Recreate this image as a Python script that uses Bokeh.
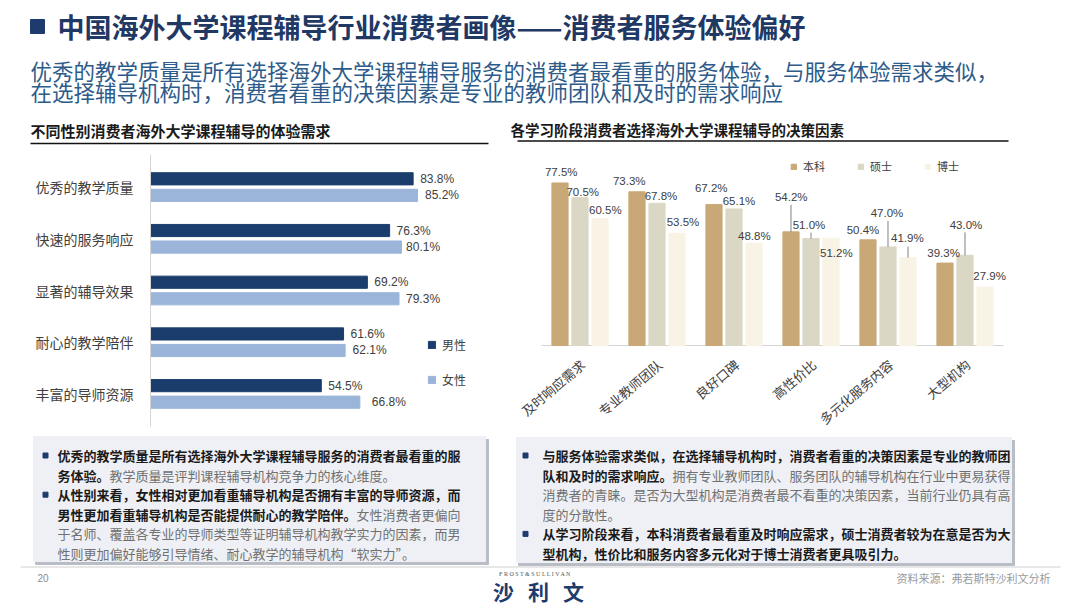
from bokeh.plotting import figure
from bokeh.models import Range1d, FactorRange, ColumnDataSource, Legend, LegendItem
from bokeh.transform import dodge
from bokeh.layouts import column, row
from bokeh.core.properties import value
from bokeh.embed import file_html
from bokeh.resources import INLINE

# ---------------- data ----------------
gender_categories = ["优秀的教学质量", "快速的服务响应", "显著的辅导效果", "耐心的教学陪伴", "丰富的导师资源"]
gender_series = ["男性", "女性"]
male = [83.8, 76.3, 69.2, 61.6, 54.5]
female = [85.2, 80.1, 79.3, 62.1, 66.8]

factor_categories = ["及时响应需求", "专业教师团队", "良好口碑", "高性价比", "多元化服务内容", "大型机构"]
stage_series = ["本科", "硕士", "博士"]
bachelor = [77.5, 73.3, 67.2, 54.2, 50.4, 39.3]
master = [70.5, 67.8, 65.1, 51.0, 47.0, 43.0]
doctor = [60.5, 53.5, 48.8, 51.2, 41.9, 27.9]

title_text = "中国海外大学课程辅导行业消费者画像——消费者服务体验偏好"
subtitle_lines = ["优秀的教学质量是所有选择海外大学课程辅导服务的消费者最看重的服务体验，与服务体验需求类似，",
                  "在选择辅导机构时，消费者看重的决策因素是专业的教师团队和及时的需求响应"]
left_header = "不同性别消费者海外大学课程辅导的体验需求"
right_header = "各学习阶段消费者选择海外大学课程辅导的决策因素"

# (bullet, bold part, normal part)
left_box = [
    (True, "优秀的教学质量是所有选择海外大学课程辅导服务的消费者最看重的服", ""),
    (False, "务体验。", "教学质量是评判课程辅导机构竞争力的核心维度。"),
    (True, "从性别来看，女性相对更加看重辅导机构是否拥有丰富的导师资源，而", ""),
    (False, "男性更加看重辅导机构是否能提供耐心的教学陪伴。", "女性消费者更偏向"),
    (False, "", "于名师、覆盖各专业的导师类型等证明辅导机构教学实力的因素，而男"),
    (False, "", "性则更加偏好能够引导情绪、耐心教学的辅导机构“软实力”。"),
]
right_box = [
    (True, "与服务体验需求类似，在选择辅导机构时，消费者看重的决策因素是专业的教师团", ""),
    (False, "队和及时的需求响应。", "拥有专业教师团队、服务团队的辅导机构在行业中更易获得"),
    (False, "", "消费者的青睐。是否为大型机构是消费者最不看重的决策因素，当前行业仍具有高"),
    (False, "", "度的分散性。"),
    (True, "从学习阶段来看，本科消费者最看重及时响应需求，硕士消费者较为在意是否为大", ""),
    (False, "型机构，性价比和服务内容多元化对于博士消费者更具吸引力。", ""),
]
page_no = "20"
source_text = "资料来源：弗若斯特沙利文分析"
logo_small = "F R O S T   &   S U L L I V A N"
logo_chars = ["沙", "利", "文"]

# ---------------- styles ----------------
CJK = value("Noto Sans CJK SC")
LAT = value("Liberation Sans")
NAVY = "#1f3b6e"
MALE_C = "#1b3d6d"
FEMALE_C = "#9bb4da"
STAGE_C = ["#c9a877", "#dbd7c5", "#f8f3e5"]
LABEL_C = "#404040"

# label offsets (pixels) – styling only
female_dx = [7.5, 4.5, 7, 7.5, 12]
stage_dx = [[1.3, -7.7, -2.7, 0.3, -5, -1.4],
            [2.7, 4, 5, -2, -1, 1],
            [5.3, 6, 0.3, 5.3, -0.7, 4.6]]
stage_dy = [[-10.5, -11.1, -16.2, -35.2, -10.2, -9.8],
            [-5.5, -7.6, -8.3, -13.9, -34, -30.7],
            [-9, -11.6, -6.8, 14.8, -19.3, -10.7]]
leader_px = [[0, 0, 0, 27, 0, 0],
             [0, 0, 0, 6, 26, 23],
             [0, 0, 0, 0, 11, 0]]
stage_off = [-0.26, 0.0, 0.26]


def canvas(w, h, x0, y0):
    p = figure(width=w, height=h, x_range=Range1d(x0, x0 + w), y_range=Range1d(y0 + h, y0),
               x_axis_location=None, y_axis_location=None, toolbar_location=None,
               output_backend="svg", min_border=0)
    p.grid.grid_line_color = None
    p.outline_line_color = None
    return p


# ---------------- header ----------------
hd = canvas(1080, 150, 0, 0)
hd.quad(left=[30], right=[44], top=[19], bottom=[33], color=NAVY)
hd.text(x=[57], y=[26], text=[title_text], text_font=CJK, text_font_style="bold",
        text_font_size="27px", text_color="#1f3864", text_baseline="middle")
hd.text(x=[30, 30], y=[70, 91], text=subtitle_lines, text_font=CJK,
        text_font_size="21.5px", text_color="#2d5b8a", text_baseline="middle")
hd.text(x=[30], y=[130], text=[left_header], text_font=CJK, text_font_style="bold",
        text_font_size="15px", text_color="#1a1a1a", text_baseline="middle")
hd.segment(x0=[30], x1=[488], y0=[143], y1=[143], line_color="#111111", line_width=1.5)
hd.text(x=[510], y=[129], text=[right_header], text_font=CJK, text_font_style="bold",
        text_font_size="14.5px", text_color="#1a1a1a", text_baseline="middle")
hd.segment(x0=[517], x1=[1008], y0=[140.5], y1=[140.5], line_color="#111111", line_width=1.5)

# ---------------- left chart ----------------
src_g = ColumnDataSource(dict(
    cat=gender_categories, male=male, female=female,
    male_lbl=[f"{v:.1f}%" for v in male], female_lbl=[f"{v:.1f}%" for v in female],
    female_dx=female_dx))
pl = figure(width=510, height=280,
            y_range=FactorRange(*reversed(gender_categories), range_padding=0.13,
                                range_padding_units="absolute"),
            x_range=Range1d(0, 114.87), x_axis_location=None, toolbar_location=None,
            output_backend="svg", min_border_left=150, min_border_right=0,
            min_border_top=4, min_border_bottom=4)
pl.outline_line_color = None
pl.grid.grid_line_color = None
r_m = pl.hbar(y=dodge("cat", 0.16, range=pl.y_range), left=0, right="male", height=0.235,
              source=src_g, color=MALE_C)
r_f = pl.hbar(y=dodge("cat", -0.16, range=pl.y_range), left=0, right="female", height=0.235,
              source=src_g, color=FEMALE_C)
pl.text(x="male", y=dodge("cat", 0.16, range=pl.y_range), text="male_lbl", source=src_g,
        x_offset=7, text_baseline="middle", text_font=LAT, text_font_size="12px", text_color=LABEL_C)
pl.text(x="female", y=dodge("cat", -0.16, range=pl.y_range), text="female_lbl", source=src_g,
        x_offset="female_dx", text_baseline="middle", text_font=LAT, text_font_size="12px",
        text_color=LABEL_C)
ya = pl.yaxis[0]
ya.major_tick_line_color = None
ya.minor_tick_line_color = None
ya.axis_line_color = "#d4d4d4"
ya.major_label_text_font = "Noto Sans CJK SC"
ya.major_label_text_font_size = "14px"
ya.major_label_text_color = LABEL_C
ya.major_label_standoff = 11
leg_l = Legend(items=[LegendItem(label=gender_series[0], renderers=[r_m]),
                      LegendItem(label=gender_series[1], renderers=[r_f])],
               location=(277, 38), orientation="vertical", spacing=18, padding=0, margin=0,
               glyph_width=9, glyph_height=9, label_height=9, label_standoff=6,
               border_line_color=None, background_fill_alpha=0,
               label_text_font="Noto Sans CJK SC", label_text_font_size="12px",
               label_text_color=LABEL_C)
pl.add_layout(leg_l)

# ---------------- right chart ----------------
Y_START, Y_END = -38.63, 91.08
FRAME_H = 272
px_per_unit = FRAME_H / (Y_END - Y_START)
series_vals = [bachelor, master, doctor]
sdata = dict(cat=factor_categories, zero=[0] * len(factor_categories))
for i, vals in enumerate(series_vals):
    sdata[f"v{i}"] = vals
    sdata[f"l{i}"] = [f"{v:.1f}%" for v in vals]
    sdata[f"dx{i}"] = stage_dx[i]
    sdata[f"dy{i}"] = stage_dy[i]
    sdata[f"t{i}"] = [v + L / px_per_unit for v, L in zip(vals, leader_px[i])]
src_s = ColumnDataSource(sdata)

pr = figure(width=570, height=280,
            x_range=FactorRange(*factor_categories, range_padding=0.4026,
                                range_padding_units="absolute"),
            y_range=Range1d(Y_START, Y_END), x_axis_location=None, y_axis_location=None,
            toolbar_location=None, output_backend="svg", min_border_left=0,
            min_border_right=46, min_border_top=4, min_border_bottom=4)
pr.outline_line_color = None
pr.grid.grid_line_color = None
# baseline (category axis line) spanning the categories
base_src = ColumnDataSource(dict(a=[factor_categories[0]], b=[factor_categories[-1]], y=[0]))
pr.segment(x0=dodge("a", -0.5, range=pr.x_range), x1=dodge("b", 0.5, range=pr.x_range),
           y0="y", y1="y", source=base_src, line_color="#d4d4d4", line_width=1)
bars = []
for i in range(3):
    xs = dodge("cat", stage_off[i], range=pr.x_range)
    bars.append(pr.vbar(x=xs, top=f"v{i}", bottom=0, width=0.21, source=src_s,
                        color=STAGE_C[i]))
for i in range(3):
    xs = dodge("cat", stage_off[i], range=pr.x_range)
    pr.segment(x0=xs, x1=xs, y0=f"v{i}", y1=f"t{i}", source=src_s,
               line_color="#808080", line_width=1)
    pr.text(x=xs, y=f"v{i}", text=f"l{i}", x_offset=f"dx{i}", y_offset=f"dy{i}",
            source=src_s, text_align="center", text_baseline="middle",
            text_font=LAT, text_font_size="11.5px", text_color=LABEL_C)
# category labels, rotated, ending just below the baseline under each group
pr.text(x="cat", y="zero", text="cat", source=src_s, angle=0.70, x_offset=3, y_offset=17,
        text_align="right", text_baseline="middle", text_font=CJK,
        text_font_size="13px", text_color=LABEL_C)
leg_r = Legend(items=[LegendItem(label=stage_series[i], renderers=[bars[i]]) for i in range(3)],
               location=(280, 252), orientation="horizontal", spacing=32, padding=0, margin=0,
               glyph_width=7, glyph_height=7, label_height=7, label_standoff=6,
               border_line_color=None, background_fill_alpha=0,
               label_text_font="Noto Sans CJK SC", label_text_font_size="11px",
               label_text_color=LABEL_C)
pr.add_layout(leg_r)

# ---------------- bottom ----------------
bt = canvas(1080, 177, 0, 430)
for (l, r, t, b) in [(33, 485, 436, 561), (516, 1011, 437, 562)]:
    bt.quad(left=[l + 2], right=[r + 3], top=[t + 3], bottom=[b + 3], color="#b9bdc6")
    bt.quad(left=[l], right=[r], top=[t], bottom=[b], color="#eef0f5")

FS = 13


def box_text(lines, x_text, x_bullet):
    for i, (bullet, bold, normal) in enumerate(lines):
        y = 455 + 19.6 * i
        if bullet:
            bt.quad(left=[x_bullet - 2.5], right=[x_bullet + 2.5], top=[y - 2.5], bottom=[y + 2.5],
                    color=NAVY)
        if bold:
            bt.text(x=[x_text], y=[y], text=[bold], text_font=CJK, text_font_style="bold",
                    text_font_size=f"{FS}px", text_color="#1a1a1a", text_baseline="middle")
        if normal:
            bt.text(x=[x_text + len(bold) * FS], y=[y], text=[normal], text_font=CJK,
                    text_font_size=f"{FS}px", text_color="#707070", text_baseline="middle")


box_text(left_box, 57, 45)
box_text(right_box, 542, 525)

bt.segment(x0=[20], x1=[1060], y0=[566.5], y1=[566.5], line_color="#cfcfcf", line_width=1)
bt.text(x=[37], y=[577], text=[page_no], text_font=LAT, text_font_size="10px",
        text_color="#8c8c8c", text_baseline="middle")
bt.text(x=[538], y=[573], text=[logo_small], text_font=value("Liberation Serif"),
        text_font_size="6px", text_color="#555555", text_baseline="middle", text_align="center")
bt.text(x=[503, 538, 573], y=[590, 590, 590], text=logo_chars, text_font=CJK,
        text_font_style="bold", text_font_size="21px", text_color=NAVY,
        text_baseline="middle", text_align="center")
bt.text(x=[1050], y=[577], text=[source_text], text_font=CJK, text_font_size="11px",
        text_color="#9a9a9a", text_baseline="middle", text_align="right")

layout = column(hd, row(pl, pr), bt)
open("out.html", "w").write(file_html(layout, INLINE))
